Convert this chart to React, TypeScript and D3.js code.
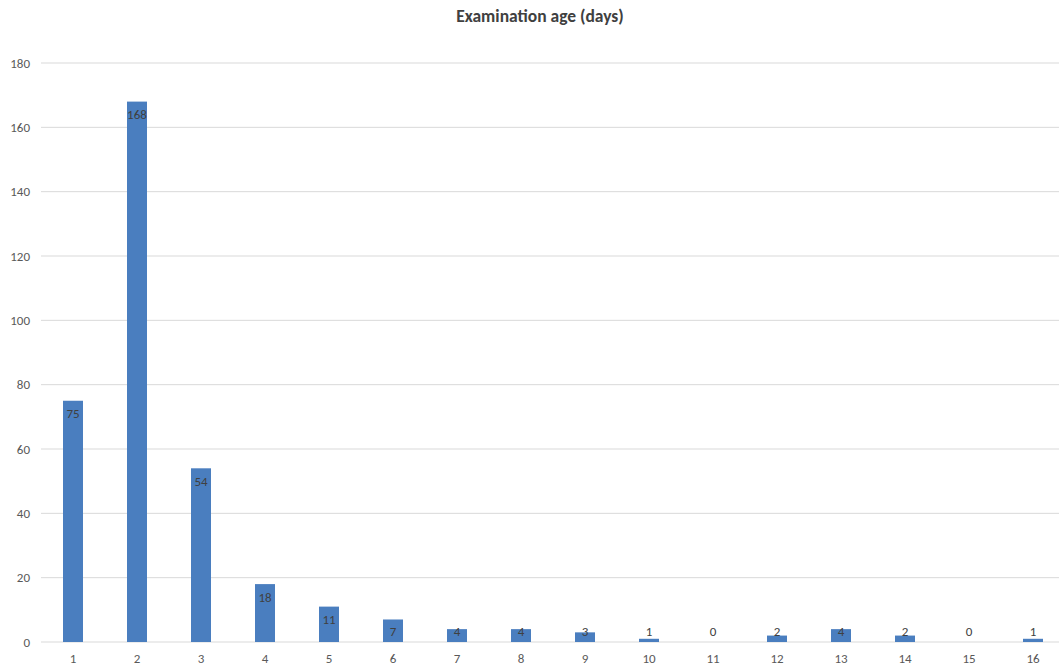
import React from "react";
import * as d3 from "d3";

const categories = ["1", "2", "3", "4", "5", "6", "7", "8", "9", "10", "11", "12", "13", "14", "15", "16"];
const counts = [75, 168, 54, 18, 11, 7, 4, 4, 3, 1, 0, 2, 4, 2, 0, 1];
const yTicks = [0, 20, 40, 60, 80, 100, 120, 140, 160, 180];

const W = 1059;
const H = 666;
const plotLeft = 41;
const plotRight = 1065;
const plotTop = 63;
const plotBottom = 642;
const font = "Carlito, Calibri, Lato, 'Open Sans', sans-serif";

export default function App() {
  const x = d3.scaleBand<string>().domain(categories).range([plotLeft, plotRight]).paddingInner(0.6875).paddingOuter(0.34375);
  const y = d3.scaleLinear().domain([0, 180]).range([plotBottom, plotTop]);
  const bw = 20;

  return (
    <svg width={W} height={H} style={{ position: "absolute", left: 0, top: 0, background: "#fff" }}>
      <text x={540} y={16} dy="0.35em" textAnchor="middle" fontFamily={font} fontWeight="bold" fontSize={17.5} fill="#404040">
        Examination age (days)
      </text>
      {yTicks.map((t) => (
        <g key={t}>
          <line x1={plotLeft} x2={W} y1={y(t)} y2={y(t)} stroke="#d9d9d9" strokeWidth={1} />
          <text x={30} y={y(t)} dy="0.35em" textAnchor="end" fontFamily={font} fontSize={13} fill="#595959">
            {t}
          </text>
        </g>
      ))}
      {categories.map((c, i) => {
        const cx = (x(c) as number) + x.bandwidth() / 2;
        const v = counts[i];
        const top = y(v);
        const labelY = Math.min(top + 13, plotBottom - 11);
        return (
          <g key={c}>
            {v > 0 && <rect x={cx - bw / 2} y={top} width={bw} height={plotBottom - top} fill="#4a7ebf" />}
            <text x={cx} y={labelY} dy="0.35em" textAnchor="middle" fontFamily={font} fontSize={13} fill="#404040">
              {v}
            </text>
            <text x={cx} y={658} dy="0.35em" textAnchor="middle" fontFamily={font} fontSize={13} fill="#595959">
              {c}
            </text>
          </g>
        );
      })}
    </svg>
  );
}
